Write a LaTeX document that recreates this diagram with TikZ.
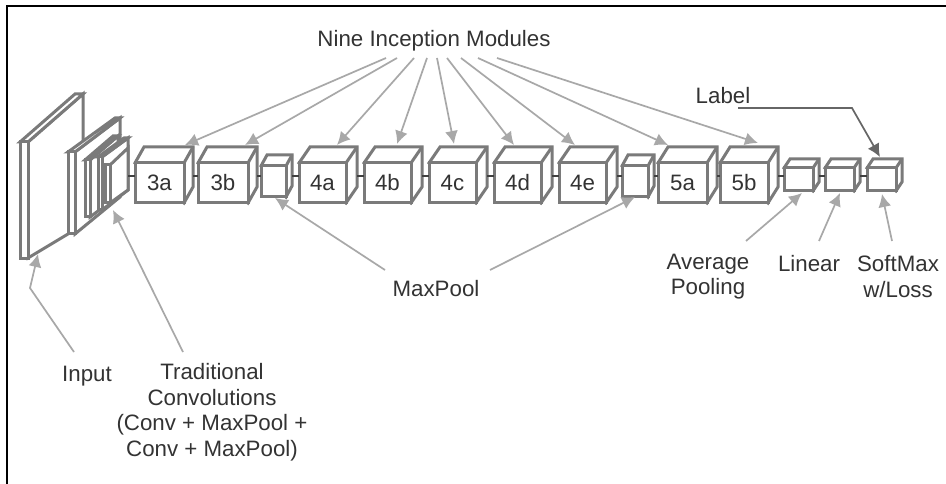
\documentclass[tikz,border=0pt]{standalone}
\usepackage{fontspec}
\setmainfont{Liberation Sans}
\usetikzlibrary{arrows.meta}
\definecolor{boxgray}{HTML}{7A7A7A}
\definecolor{arrowgray}{HTML}{A8A8A8}
\definecolor{labelgray}{HTML}{666666}
\definecolor{txt}{HTML}{333333}
\tikzset{
  x=1pt,y=-1pt,
  boxline/.style={draw=boxgray,line width=3pt,line join=miter},
  front/.style={boxline,fill=white,rectangle,inner sep=0pt,outer sep=0pt,text=txt,font=\fontsize{22.3}{26}\selectfont},
  link/.style={draw=black!75,line width=1.4pt},
  pointer/.style={draw=arrowgray,line width=1.7pt,-{Latex[length=13pt,width=13pt]}},
  labelarrow/.style={draw=labelgray,line width=1.7pt,-{Latex[length=13pt,width=13pt]}},
  caption/.style={text=txt,font=\fontsize{22.3}{25.5}\selectfont,align=center,inner sep=0pt},
  frameline/.style={draw=black,line width=2.6pt}
}
% name, x0, x1, y0, y1, dx, dy, label
\newcommand{\blockcube}[8]{%
  \draw[boxline,fill=white] ({#2+#6},{#4+#7}) -- ++({#3-#2},0) -- ++(0,{#5-#4}) -- (#3,#5) -- (#2,#4) -- cycle;
  \node[front,minimum width={(#3-#2)*1pt},minimum height={(#5-#4)*1pt}] (#1) at ({(#2+#3)/2},{(#4+#5)/2}) {#8};
  \draw[boxline] (#1.north east) -- ++(#6,#7);
  \coordinate (#1-r) at ({#3+#6},176);
}
\begin{document}
\begin{tikzpicture}
\useasboundingbox (0,0) rectangle (946,484);
\fill[white] (0,0) rectangle (946,484);
\coordinate (fa) at (7,484);
\coordinate (fb) at (7,6);
\coordinate (fc) at (946,6);
\draw[frameline] (fa) -- (fb) -- (fc);

% input slab
\draw[boxline,fill=white] (28,142) -- (83,94) -- (83,225) -- (28,258) -- cycle;
\draw[boxline,fill=white] (20,142) -- (75,94) -- (83,94) -- (28,142) -- cycle;
\draw[boxline,fill=white] (20,142) rectangle (28,258);
% second slab
\draw[boxline,fill=white] (75,152) -- (120,118) -- (120,197) -- (75,234) -- cycle;
\draw[boxline,fill=white] (68,152) -- (115,118) -- (120,118) -- (75,152) -- cycle;
\draw[boxline,fill=white] (68,152) rectangle (75,234);
% stacked layers
\draw[boxline,fill=white] (90,160) -- (118,136) -- (118,196) -- (90,217) -- cycle;
\draw[boxline,fill=white] (85,160) -- (113,136) -- (118,136) -- (90,160) -- cycle;
\draw[boxline,fill=white] (85,160) rectangle (90,217);
\draw[boxline,fill=white] (102,157) -- (128,138) -- (128,190) -- (102,210) -- cycle;
\draw[boxline,fill=white] (98,157) -- (124,138) -- (128,138) -- (102,157) -- cycle;
\draw[boxline,fill=white] (98,157) rectangle (102,210);
\draw[boxline,fill=white] (110,165) -- (128,148) -- (128,190) -- (110,203) -- cycle;
\draw[boxline,fill=white] (105,165) rectangle (110,203);
\coordinate (stack-r) at (128,176);

% cubes
\blockcube{c3a}{135}{184}{163}{203}{9}{-16}{3a}
\blockcube{c3b}{198}{248}{163}{203}{9}{-16}{3b}
\blockcube{p1}{261}{286}{166}{197}{6}{-11}{}
\blockcube{c4a}{299}{346}{163}{203}{11}{-16}{4a}
\blockcube{c4b}{364}{411}{163}{203}{11}{-16}{4b}
\blockcube{c4c}{429}{476}{163}{203}{11}{-16}{4c}
\blockcube{c4d}{494}{541}{163}{203}{11}{-16}{4d}
\blockcube{c4e}{559}{606}{163}{203}{11}{-16}{4e}
\blockcube{p2}{622}{648}{166}{197}{6}{-11}{}
\blockcube{c5a}{658}{707}{163}{203}{10}{-16}{5a}
\blockcube{c5b}{720}{768}{163}{203}{10}{-16}{5b}
\blockcube{avg}{784}{813}{168}{191}{6}{-9}{}
\blockcube{lin}{825}{854}{168}{191}{6}{-9}{}
\blockcube{sm}{867}{896}{168}{191}{6}{-9}{}

% links between cubes
\draw[link] (stack-r) -- (c3a.west |- stack-r);
\draw[link] (c3a-r) -- (c3b.west |- c3a-r);
\draw[link] (c3b-r) -- (p1.west |- c3b-r);
\draw[link] (p1-r) -- (c4a.west |- p1-r);
\draw[link] (c4a-r) -- (c4b.west |- c4a-r);
\draw[link] (c4b-r) -- (c4c.west |- c4b-r);
\draw[link] (c4c-r) -- (c4d.west |- c4c-r);
\draw[link] (c4d-r) -- (c4e.west |- c4d-r);
\draw[link] (c4e-r) -- (p2.west |- c4e-r);
\draw[link] (p2-r) -- (c5a.west |- p2-r);
\draw[link] (c5a-r) -- (c5b.west |- c5a-r);
\draw[link] (c5b-r) -- (avg.west |- c5b-r);
\draw[link] (avg-r) -- (lin.west |- avg-r);
\draw[link] (lin-r) -- (sm.west |- lin-r);

% captions
\node[caption] (nine) at (434,40.5) {Nine Inception Modules};
\node[caption] (lab) at (723,95.5) {Label};
\node[caption] (mp) at (436,288.5) {MaxPool};
\node[caption] (inp) at (87,376) {Input};
\node[caption] (trad) at (212,412) {Traditional\\Convolutions\\(Conv + MaxPool +\\Conv + MaxPool)};
\node[caption] (ap) at (708,276.5) {Average\\Pooling};
\node[caption] (lr) at (809,263.5) {Linear};
\node[caption] (sx) at (898,276.5) {SoftMax\\w/Loss};

% pointer ends
\foreach \n/\x/\y in {s1/386/58,s2/397/58,s3/414/58,s4/427/58,s5/437/58,s6/447/58,s7/461/58,s8/478/58,s9/497/58,
  t1/185/145,t2/245/145,t3/337/145,t4/397/144,t5/454/144,t6/514/145,t7/575/145,t8/668/145,t9/758/143,
  ms1/385/270,mt1/275/198,ms2/490/270,mt2/635/197,
  is/74/352,ib/30/288,it/38/254,
  cs/183/352,ct/113/210,
  as/746/241,at/802/193,
  ls/819/241,lt/840/193,
  xs/892/241,xt/882/194,
  ys/738/108,yb/852/108,yt/880/157}{\coordinate (\n) at (\x,\y);}
\foreach \i in {1,...,9}{\draw[pointer] (s\i) -- (t\i);}
\draw[pointer] (ms1) -- (mt1);
\draw[pointer] (ms2) -- (mt2);
\draw[pointer] (is) -- (ib) -- (it);
\draw[pointer] (cs) -- (ct);
\draw[pointer] (as) -- (at);
\draw[pointer] (ls) -- (lt);
\draw[pointer] (xs) -- (xt);
\draw[labelarrow] (ys) -- (yb) -- (yt);
\end{tikzpicture}
\end{document}
